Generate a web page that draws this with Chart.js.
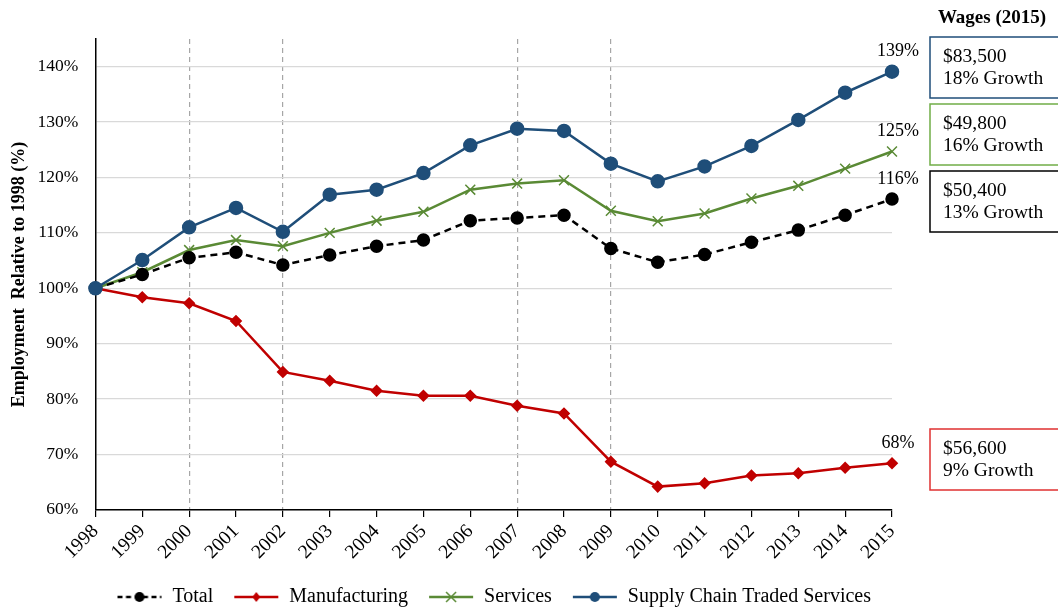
<!DOCTYPE html>
<html>
<head>
<meta charset="utf-8">
<script src="https://cdn.jsdelivr.net/npm/chart.js@4.4.1/dist/chart.umd.min.js"></script>
<style>
    body { margin: 0; background: #fff; }
    #wrap { width: 1058px; height: 609px; position: relative; }
</style>
</head>
<body>
<div id="wrap"><canvas id="employmentChart"></canvas></div>
<script>
// --- Date ---
const years = ['1998', '1999', '2000', '2001', '2002', '2003', '2004', '2005', '2006',
    '2007', '2008', '2009', '2010', '2011', '2012', '2013', '2014', '2015'];
const totalValues = [100, 102.5, 105.5, 106.5, 104.2, 106, 107.6, 108.7, 112.2,
    112.7, 113.2, 107.2, 104.7, 106.1, 108.3, 110.5, 113.2, 116.1];
const manufacturingValues = [100, 98.4, 97.3, 94.1, 84.9, 83.3, 81.5, 80.6, 80.6,
    78.8, 77.4, 68.7, 64.2, 64.8, 66.2, 66.6, 67.6, 68.4];
const servicesValues = [100, 102.9, 106.9, 108.7, 107.6, 110, 112.2, 113.8, 117.8,
    118.9, 119.5, 114, 112.1, 113.5, 116.2, 118.5, 121.6, 124.7];
const supplyChainValues = [100, 105.1, 111, 114.5, 110.2, 116.9, 117.8, 120.8, 125.8,
    128.8, 128.4, 122.5, 119.3, 122, 125.7, 130.4, 135.3, 139.1];
const yTickValues = [60, 70, 80, 90, 100, 110, 120, 130, 140];
const recessionYears = ['2000', '2002', '2007', '2009'];
const endLabels = ['116%', '68%', '125%', '139%'];
const wageLabels = ['$83,500', '$49,800', '$50,400', '$56,600'];
const growthLabels = ['18% Growth', '16% Growth', '13% Growth', '9% Growth'];

const FONT = '"Liberation Serif", "Times New Roman", serif';
const BLACK = '#000000';
const RED = '#c00000';
const GREEN = '#5a8a35';
const BLUE = '#1f4e79';

// Simbol pentru legenda: linie + marker, desenat pe un canvas mic
function makeLegendSymbol(color, dashed, marker) {
    const c = document.createElement('canvas');
    c.width = 46; c.height = 16;
    const g = c.getContext('2d');
    g.strokeStyle = color;
    g.fillStyle = color;
    g.lineWidth = 2.5;
    if (dashed) g.setLineDash([5, 3.5]);
    g.beginPath(); g.moveTo(1, 8); g.lineTo(45, 8); g.stroke();
    g.setLineDash([]);
    if (marker === 'circle') {
        g.beginPath(); g.arc(23, 8, 5, 0, Math.PI * 2); g.fill();
    } else if (marker === 'diamond') {
        g.beginPath(); g.moveTo(23, 3); g.lineTo(27, 8); g.lineTo(23, 13); g.lineTo(19, 8); g.closePath(); g.fill();
    } else if (marker === 'cross') {
        g.lineWidth = 1.5;
        g.beginPath(); g.moveTo(18, 3); g.lineTo(28, 13); g.moveTo(28, 3); g.lineTo(18, 13); g.stroke();
    }
    return c;
}
const legendSymbols = [
    makeLegendSymbol(BLACK, true, 'circle'),
    makeLegendSymbol(RED, false, 'diamond'),
    makeLegendSymbol(GREEN, false, 'cross'),
    makeLegendSymbol(BLUE, false, 'circle')
];

// Etichete de final (139%, 125% ...) si casetele cu salarii
const annotationsPlugin = {
    id: 'annotations',
    afterDatasetsDraw(chart) {
        const ctx = chart.ctx;
        ctx.save();
        ctx.font = '18px ' + FONT;
        ctx.fillStyle = '#000';
        ctx.textAlign = 'center';
        ctx.textBaseline = 'middle';
        chart.data.datasets.forEach((ds, i) => {
            const pt = chart.getDatasetMeta(i).data[ds.data.length - 1];
            ctx.fillText(endLabels[i], pt.x + 6, pt.y - 20);
        });
        ctx.restore();
    },
    afterDraw(chart) {
        const ctx = chart.ctx;
        ctx.save();
        ctx.font = 'bold 19px ' + FONT;
        ctx.fillStyle = '#000';
        ctx.textAlign = 'center';
        ctx.textBaseline = 'middle';
        ctx.fillText('Wages (2015)', 992, 18);

        const boxes = [
            { top: 37, color: BLUE, idx: 0 },
            { top: 104, color: '#70ad47', idx: 1 },
            { top: 171, color: '#000', idx: 2 },
            { top: 429, color: '#e03030', idx: 3 }
        ];
        ctx.font = '19.5px ' + FONT;
        ctx.textAlign = 'left';
        boxes.forEach(b => {
            ctx.strokeStyle = b.color;
            ctx.lineWidth = 1.5;
            ctx.strokeRect(930, b.top, 130, 61);
            ctx.fillText(wageLabels[b.idx], 943, b.top + 20);
            ctx.fillText(growthLabels[b.idx], 943, b.top + 42);
        });
        ctx.restore();
    }
};

function buildChart() {
    const canvas = document.getElementById('employmentChart');
    const defaultLabels = Chart.defaults.plugins.legend.labels.generateLabels;

    new Chart(canvas, {
        type: 'line',
        data: {
            labels: years,
            datasets: [
                {
                    label: 'Total',
                    data: totalValues,
                    borderColor: BLACK,
                    backgroundColor: BLACK,
                    borderWidth: 2.5,
                    borderDash: [7, 5],
                    pointStyle: 'circle',
                    pointRadius: 5.5,
                    order: 1
                },
                {
                    label: 'Manufacturing',
                    data: manufacturingValues,
                    borderColor: RED,
                    backgroundColor: RED,
                    borderWidth: 2.5,
                    pointStyle: 'rectRot',
                    pointRadius: 4.5,
                    order: 2
                },
                {
                    label: 'Services',
                    data: servicesValues,
                    borderColor: GREEN,
                    backgroundColor: GREEN,
                    borderWidth: 2.5,
                    pointStyle: 'crossRot',
                    pointRadius: 7,
                    pointBorderWidth: 1.5,
                    order: 3
                },
                {
                    label: 'Supply Chain Traded Services',
                    data: supplyChainValues,
                    borderColor: BLUE,
                    backgroundColor: BLUE,
                    borderWidth: 2.5,
                    pointStyle: 'circle',
                    pointRadius: 6,
                    order: 0
                }
            ]
        },
        options: {
            responsive: true,
            maintainAspectRatio: false,
            animation: false,
            layout: { padding: { top: 39, right: 166, left: 3, bottom: -8 } },
            plugins: {
                tooltip: { enabled: false },
                legend: {
                    position: 'bottom',
                    fullSize: false,
                    labels: {
                        usePointStyle: true,
                        pointStyleWidth: 46,
                        padding: 20,
                        color: '#000',
                        font: { family: FONT, size: 20 },
                        sort: (a, b) => a.datasetIndex - b.datasetIndex,
                        generateLabels(chart) {
                            return defaultLabels(chart).map(item => {
                                item.pointStyle = legendSymbols[item.datasetIndex];
                                return item;
                            });
                        }
                    }
                }
            },
            scales: {
                x: {
                    offset: false,
                    border: { color: '#000', width: 1.5, dash: [5, 4] },
                    grid: {
                        color: ctx => recessionYears.includes(years[ctx.index]) ? '#a6a6a6' : 'rgba(0,0,0,0)',
                        lineWidth: 1.2,
                        tickColor: '#000',
                        tickLength: 7,
                        tickBorderDash: [],
                        drawTicks: true
                    },
                    ticks: {
                        color: '#000',
                        font: { family: FONT, size: 19.5 },
                        maxRotation: 45,
                        minRotation: 45,
                        autoSkip: false,
                        padding: 3
                    }
                },
                y: {
                    min: 60,
                    max: 145,
                    border: { color: '#000', width: 1.5 },
                    grid: { color: '#d9d9d9', lineWidth: 1.2, drawTicks: false },
                    afterBuildTicks: scale => {
                        scale.ticks = yTickValues.map(v => ({ value: v }));
                    },
                    ticks: {
                        color: '#000',
                        padding: 17,
                        font: { family: FONT, size: 17.5 },
                        callback: v => v + '%'
                    },
                    title: {
                        display: true,
                        text: 'Employment  Relative to 1998 (%)',
                        color: '#000',
                        font: { family: FONT, size: 18, weight: 'bold' },
                        padding: { top: 6, bottom: -10 }
                    }
                }
            }
        },
        plugins: [annotationsPlugin]
    });
}

document.addEventListener('DOMContentLoaded', () => {
    buildChart();
});
</script>
</body>
</html>
